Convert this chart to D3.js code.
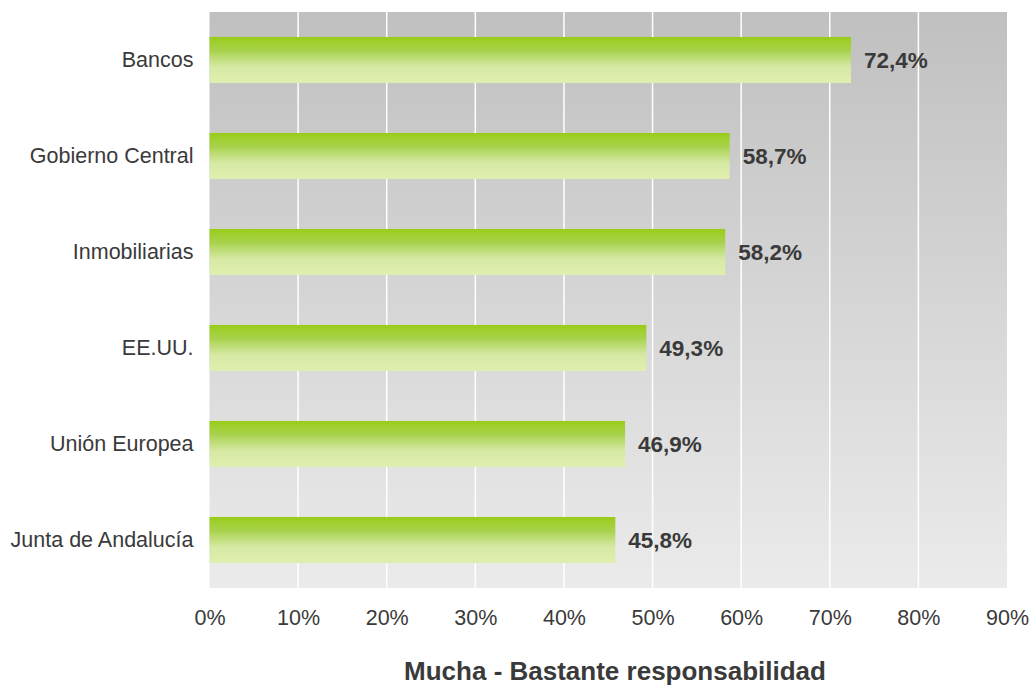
<!DOCTYPE html>
<html>
<head>
<meta charset="utf-8">
<script src="https://cdn.jsdelivr.net/npm/d3@7"></script>
<style>
  body { margin: 0; background: #fff; }
  svg text { font-family: "Liberation Sans", Arial, sans-serif; }
</style>
</head>
<body>
<div id="chart"></div>
<script>
// data
const categories = ["Bancos", "Gobierno Central", "Inmobiliarias", "EE.UU.", "Unión Europea", "Junta de Andalucía"];
const values = [72.4, 58.7, 58.2, 49.3, 46.9, 45.8];
const ticks = [0, 10, 20, 30, 40, 50, 60, 70, 80, 90];
const axisTitle = "Mucha - Bastante responsabilidad";

const margin = {top: 12, right: 25, bottom: 98, left: 209.5};
const width = 1032 - margin.left - margin.right;
const height = 686 - margin.top - margin.bottom;

const svg = d3.select("#chart").append("svg")
    .attr("width", 1032)
    .attr("height", 686);

const defs = svg.append("defs");

// plot background, dark grey at top fading to light grey
const bg = defs.append("linearGradient")
    .attr("id", "bgGrad")
    .attr("x1", "0%").attr("x2", "0%")
    .attr("y1", "0%").attr("y2", "100%");
bg.append("stop").attr("offset", "0%").attr("stop-color", "#c0c0c0");
bg.append("stop").attr("offset", "100%").attr("stop-color", "#ebebeb");

// bar fill
const barGrad = defs.append("linearGradient")
    .attr("id", "barGrad")
    .attr("x1", "0%").attr("x2", "0%")
    .attr("y1", "0%").attr("y2", "100%");
barGrad.append("stop").attr("offset", "0%").attr("stop-color", "#99cc18");
barGrad.append("stop").attr("offset", "30%").attr("stop-color", "#a9d24e");
barGrad.append("stop").attr("offset", "65%").attr("stop-color", "#d6e9a4");
barGrad.append("stop").attr("offset", "100%").attr("stop-color", "#e0efb0");

const g = svg.append("g")
    .attr("transform", "translate(" + margin.left + "," + margin.top + ")");

const x = d3.scaleLinear().domain([0, 90]).range([0, width]);
const y = d3.scaleBand().domain(categories).range([0, height]).paddingInner(0.52).paddingOuter(0.26);

g.append("rect")
    .attr("width", width)
    .attr("height", height)
    .attr("fill", "url(#bgGrad)");

// vertical gridlines
g.selectAll(".grid")
    .data(ticks.slice(1, -1))
    .enter()
    .append("line")
    .attr("class", "grid")
    .attr("x1", d => x(d)).attr("x2", d => x(d))
    .attr("y1", 0).attr("y2", height)
    .attr("stroke", "#ffffff")
    .attr("stroke-width", 1.5);

g.selectAll(".bar")
    .data(values)
    .enter()
    .append("rect")
    .attr("class", "bar")
    .attr("x", 0)
    .attr("y", (d, i) => y(categories[i]))
    .attr("width", d => x(d))
    .attr("height", y.bandwidth())
    .attr("fill", "url(#barGrad)");

g.selectAll(".val")
    .data(values)
    .enter()
    .append("text")
    .attr("class", "val")
    .attr("x", d => x(d) + 13)
    .attr("y", (d, i) => y(categories[i]) + y.bandwidth() / 2)
    .attr("dy", "0.35em")
    .attr("font-size", 22.5)
    .attr("font-weight", "bold")
    .attr("fill", "#3a3a3a")
    .text(d => d.toFixed(1).replace(".", ",") + "%");

// axes
const yAxis = d3.axisLeft(y).tickSize(0).tickPadding(16);
const yG = g.append("g").call(yAxis);
yG.select(".domain").remove();
yG.selectAll("text").attr("font-size", 21.5).attr("fill", "#3a3a3a");

const xAxis = d3.axisBottom(x).tickValues(ticks).tickSize(0).tickPadding(22)
    .tickFormat(d => d + "%");
const xG = g.append("g")
    .attr("transform", "translate(0," + height + ")")
    .call(xAxis);
xG.select(".domain").remove();
xG.selectAll("text").attr("font-size", 21.5).attr("fill", "#3a3a3a");

svg.append("text")
    .attr("x", 615)
    .attr("y", 679.5)
    .attr("text-anchor", "middle")
    .attr("font-size", 26)
    .attr("font-weight", "bold")
    .attr("fill", "#3a3a3a")
    .text(axisTitle);
</script>
</body>
</html>
